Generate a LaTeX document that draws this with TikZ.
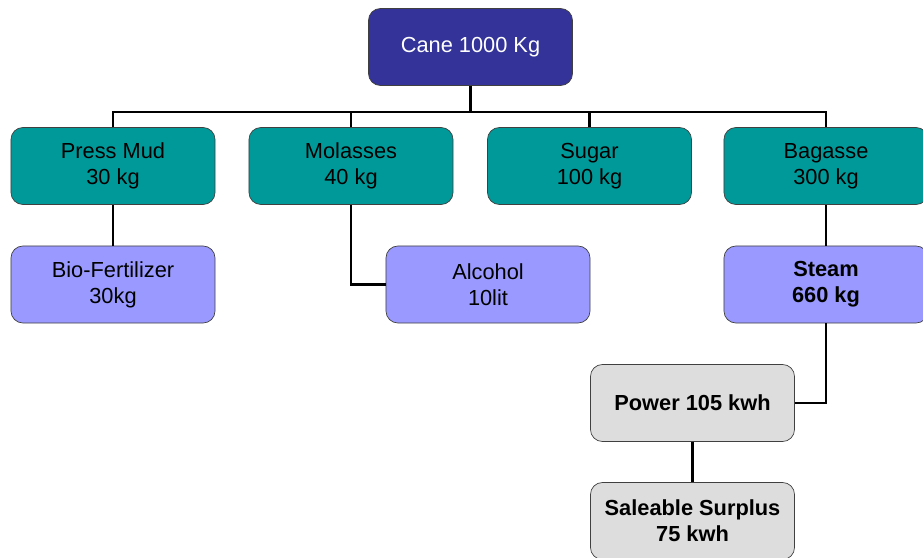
\documentclass[tikz,border=0pt]{standalone}
\usepackage{fontspec}
\setmainfont{Liberation Sans}
\usetikzlibrary{calc}
\definecolor{caneblue}{HTML}{333399}
\definecolor{canteal}{HTML}{009999}
\definecolor{canlilac}{HTML}{9999FF}
\definecolor{cangrey}{HTML}{DDDDDD}

\begin{document}
\begin{tikzpicture}[x=0.025cm, y=-0.025cm,
		box/.style={draw=black!75, line width=0.5pt, rounded corners=0.3cm, minimum width=5.1cm, minimum height=1.925cm, align=center, font=\fontsize{15.5}{18.6}\selectfont, inner sep=0pt},
		boldbox/.style={box, font=\fontsize{15.5}{18.6}\selectfont\bfseries},
		link/.style={line width=2pt}]
		%%%%% START %%%%%
		
		\useasboundingbox (0, 0) rectangle (923, 558);
		
		\node[box, fill=caneblue, text=white] (cane) at (470.5, 47) {Cane 1000 Kg};
		
		\node[box, fill=canteal] (pressmud) at (113, 166) {Press Mud\\30 kg};
		\node[box, fill=canteal] (molasses) at (351, 166) {Molasses\\40 kg};
		\node[box, fill=canteal] (sugar) at (589.5, 166) {Sugar\\100 kg};
		\node[box, fill=canteal] (bagasse) at (826, 166) {Bagasse\\300 kg};
		
		\node[box, fill=canlilac] (biofert) at (113, 284.5) {Bio-Fertilizer\\30kg};
		\node[box, fill=canlilac] (alcohol) at (488, 284.5) {Alcohol\\10lit};
		\node[boldbox, fill=canlilac] (steam) at (826, 284.5) {Steam\\660 kg};
		
		\node[boldbox, fill=cangrey] (power) at (692.5, 403) {Power 105 kwh};
		\node[boldbox, fill=cangrey] (saleable) at (692.5, 521) {Saleable Surplus\\75 kwh};
		
		\coordinate (bus) at (470.5, 112);
		
		\draw[link] (cane.south) -- (bus);
		\draw[link] (pressmud.north) |- (bus) -| (bagasse.north);
		\draw[link] (molasses.north) -- (molasses.north |- bus);
		\draw[link] (sugar.north) -- (sugar.north |- bus);
		
		\draw[link] (pressmud.south) -- (biofert.north);
		\draw[link] (molasses.south) |- (alcohol.west);
		\draw[link] (bagasse.south) -- (steam.north);
		\draw[link] (steam.south) |- (power.east);
		\draw[link] (power.south) -- (saleable.north);
		
		%%%%% END %%%%%
	\end{tikzpicture}
\end{document}
